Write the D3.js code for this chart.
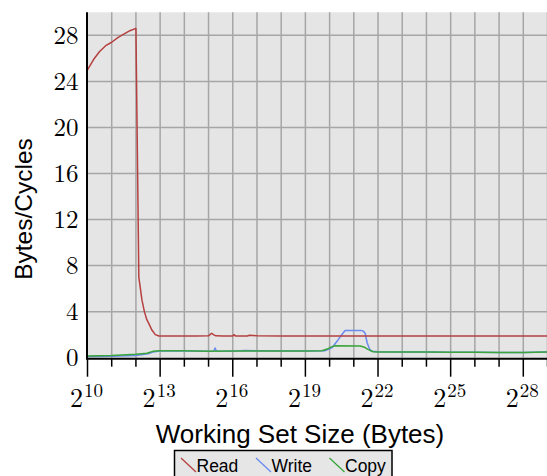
<!DOCTYPE html>
<html>
<head>
<meta charset="utf-8">
<script src="https://cdn.jsdelivr.net/npm/d3@7/dist/d3.min.js"></script>
<style>
  html, body { margin: 0; padding: 0; background: #fff; }
  svg { display: block; }
</style>
</head>
<body>
<svg id="chart" width="547" height="476"></svg>
<script>
// ---- data (x as log2 of working set size in bytes) ----
const seriesNames = ["Read", "Write", "Copy"];
const seriesColors = ["#b5403f", "#6a8af0", "#3aa53a"];

const readExp = [10, 10.25, 10.5, 10.75, 11, 11.25, 11.5, 11.75, 12, 12.12, 12.25, 12.35, 12.45, 12.55, 12.66, 12.8, 12.95, 13.5, 14, 14.5, 15, 15.08, 15.13, 15.2, 15.3, 15.6, 16, 16.05, 16.12, 16.6, 16.7, 17, 18, 19, 20, 21, 22, 23, 24, 25, 26, 27, 28, 29];
const readVal = [25.0, 25.9, 26.6, 27.1, 27.4, 27.8, 28.1, 28.4, 28.6, 7.0, 5.0, 4.0, 3.3, 2.9, 2.4, 2.0, 1.88, 1.88, 1.88, 1.88, 1.9, 2.05, 2.12, 2.0, 1.9, 1.88, 1.88, 2.0, 1.88, 1.88, 1.95, 1.9, 1.88, 1.88, 1.88, 1.88, 1.88, 1.88, 1.88, 1.88, 1.88, 1.88, 1.88, 1.88];

const writeExp = [10, 11, 12, 12.5, 12.7, 13, 14, 15, 15.22, 15.27, 15.32, 16, 16.5, 17, 18, 19, 19.8, 20.09, 20.3, 20.5, 20.64, 21.3, 21.4, 21.47, 21.55, 21.65, 21.74, 22, 23, 24, 25, 26, 27, 28, 29];
const writeVal = [0.1, 0.13, 0.2, 0.35, 0.5, 0.58, 0.58, 0.55, 0.58, 0.85, 0.58, 0.55, 0.62, 0.6, 0.58, 0.58, 0.6, 0.85, 1.4, 2.0, 2.37, 2.37, 2.3, 2.1, 1.3, 0.75, 0.55, 0.52, 0.5, 0.5, 0.48, 0.48, 0.45, 0.45, 0.5];

const copyExp = [10, 11, 12, 12.45, 12.7, 13, 14, 15, 16, 17, 18, 19, 19.68, 19.9, 20.05, 20.23, 21.26, 21.45, 21.6, 21.8, 22, 23, 24, 25, 26, 27, 27.5, 28, 28.5, 29];
const copyVal = [0.15, 0.2, 0.3, 0.38, 0.55, 0.6, 0.6, 0.55, 0.58, 0.58, 0.58, 0.58, 0.6, 0.75, 0.92, 1.03, 1.02, 0.9, 0.7, 0.52, 0.5, 0.5, 0.5, 0.48, 0.48, 0.46, 0.45, 0.45, 0.48, 0.5];

const xTickExps = [10, 13, 16, 19, 22, 25, 28];
const yTicks = [0, 4, 8, 12, 16, 20, 24, 28];

// ---- layout ----
const svg = d3.select("#chart");
const pLeft = 87.5, pRight = 547.5, pTop = 12.3, pBottom = 357.7;
const serif = "'Latin Modern Roman', 'CMU Serif', 'Liberation Serif', serif";
const sans = "'Liberation Sans', Arial, sans-serif";

const x = d3.scaleLog().base(2).domain([Math.pow(2, 10), Math.pow(2, 29)]).range([pLeft, pRight]);
const y = d3.scaleLinear().domain([0, 30]).range([pBottom, pTop]);

// background
svg.append("rect").attr("x", pLeft).attr("y", pTop)
  .attr("width", pRight - pLeft).attr("height", pBottom - pTop).attr("fill", "#e5e5e5");

// grid
const allExps = d3.range(10, 30);
svg.append("g").selectAll("line").data(allExps.slice(1)).join("line")
  .attr("x1", d => x(Math.pow(2, d))).attr("x2", d => x(Math.pow(2, d)))
  .attr("y1", pTop).attr("y2", pBottom)
  .attr("stroke", "#a6a6a6").attr("stroke-width", 1.5);
svg.append("g").selectAll("line").data(yTicks.slice(1)).join("line")
  .attr("x1", pLeft).attr("x2", pRight)
  .attr("y1", d => y(d)).attr("y2", d => y(d))
  .attr("stroke", "#a6a6a6").attr("stroke-width", 1.5);

// lines
const line = d3.line().x(d => x(Math.pow(2, d[0]))).y(d => y(d[1]));
const series = [
  d3.zip(readExp, readVal),
  d3.zip(writeExp, writeVal),
  d3.zip(copyExp, copyVal)
];
[1, 2, 0].forEach(i => {
  svg.append("path").datum(series[i])
    .attr("d", line).attr("fill", "none")
    .attr("stroke", seriesColors[i]).attr("stroke-width", 1.5)
    .attr("stroke-linejoin", "round");
});

// x axis
const xAxisY = pBottom + 1;
svg.append("line").attr("x1", pLeft).attr("x2", pRight).attr("y1", xAxisY).attr("y2", xAxisY)
  .attr("stroke", "#000").attr("stroke-width", 2);
svg.append("g").selectAll("line").data(allExps).join("line")
  .attr("x1", d => x(Math.pow(2, d))).attr("x2", d => x(Math.pow(2, d)))
  .attr("y1", xAxisY)
  .attr("y2", d => xTickExps.includes(d) ? xAxisY + 18 : xAxisY + 8)
  .attr("stroke", "#000").attr("stroke-width", 1.5);

const xl = svg.append("g").selectAll("text").data(xTickExps).join("text")
  .attr("x", d => x(Math.pow(2, d)) - 1)
  .attr("y", 407)
  .attr("text-anchor", "middle")
  .style("font-family", serif)
  .style("font-size", "26px");
xl.append("tspan").text("2");
xl.append("tspan").style("font-size", "19px").attr("dy", -10).attr("dx", 1).text(d => d);

// y axis
svg.append("line").attr("x1", pLeft - 0.5).attr("x2", pLeft - 0.5).attr("y1", pTop).attr("y2", xAxisY + 1)
  .attr("stroke", "#000").attr("stroke-width", 2);
svg.append("g").selectAll("text").data(yTicks).join("text")
  .attr("x", 78.5).attr("y", d => y(d))
  .attr("dy", "0.33em")
  .attr("text-anchor", "end")
  .style("font-family", serif)
  .style("font-size", "25px")
  .text(d => d);

// titles
svg.append("text").attr("x", 300).attr("y", 443)
  .attr("text-anchor", "middle")
  .style("font-family", sans)
  .style("font-size", "26px")
  .text("Working Set Size (Bytes)");
svg.append("text").attr("transform", "translate(32,209) rotate(-90)")
  .attr("text-anchor", "middle")
  .style("font-family", sans)
  .style("font-size", "24.5px")
  .text("Bytes/Cycles");

// legend
const lg = svg.append("g");
lg.append("rect").attr("x", 174.5).attr("y", 450.5).attr("width", 217.5).attr("height", 40)
  .attr("fill", "#e6e6e6").attr("stroke", "#000").attr("stroke-width", 1.5);
const legendX = [181, 256, 329.5];
seriesNames.forEach((name, i) => {
  const lx = legendX[i];
  lg.append("line").attr("x1", lx).attr("y1", 458).attr("x2", lx + 15).attr("y2", 472)
    .attr("stroke", seriesColors[i]).attr("stroke-width", 1.3);
  lg.append("text").attr("x", lx + 15.5).attr("y", 471.5)
    .style("font-family", sans)
    .style("font-size", "17.5px")
    .text(name);
});
</script>
</body>
</html>
